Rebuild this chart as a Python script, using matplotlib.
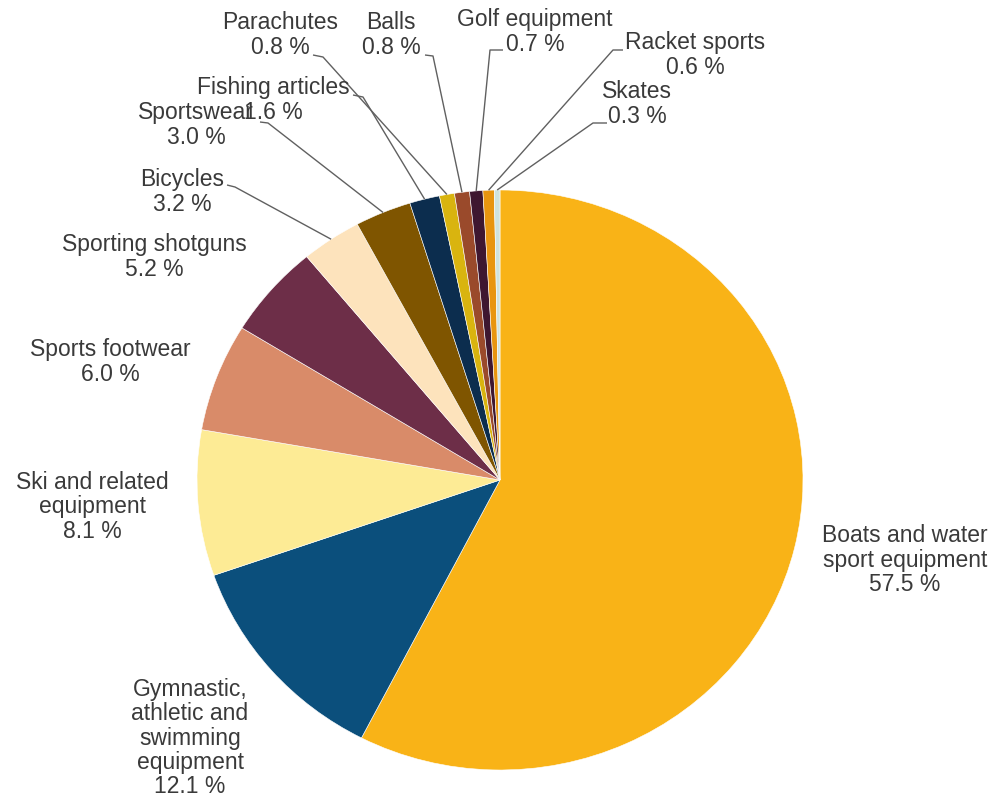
import matplotlib
matplotlib.use("Agg")
import matplotlib.pyplot as plt
import numpy as np

categories = ["Boats and water\nsport equipment",
              "Gymnastic,\nathletic and\nswimming\nequipment",
              "Ski and related\nequipment",
              "Sports footwear",
              "Sporting shotguns",
              "Bicycles",
              "Sportswear",
              "Fishing articles",
              "Parachutes",
              "Balls",
              "Golf equipment",
              "Racket sports",
              "Skates"]
values = [57.5, 12.1, 8.1, 6.0, 5.2, 3.2, 3.0, 1.6, 0.8, 0.8, 0.7, 0.6, 0.3]
colors = ["#F9B317", "#0B4F7C", "#FDEB95", "#D98B69", "#6D2E48", "#FDE3BC",
          "#7F5500", "#0C2D4E", "#D9B40F", "#9A4A2B", "#3E1730", "#E8950F",
          "#CFE3DE"]

# label block centres in pixel coordinates (layout)
label_pos = [(905, 560), (190, 738), (92, 507), (110, 362), (154, 257),
             (182, 192), (196, 125), (273, 100), (280, 35), (391, 35),
             (535, 32), (695, 55), (637, 104)]
# leader line start points (pixels), None = no leader
leader = [None, None, None, None, None,
          [(227, 185), (235, 187)],
          [(260, 122), (268, 123)],
          [(353, 95), (363, 97)],
          [(313, 55), (323, 57)],
          [(425, 55), (433, 56)],
          [(503, 50), (490, 50)],
          [(623, 50), (613, 50)],
          [(607, 123), (593, 123)]]

W, H = 992, 799
CX, CY, RX, RY = 500, 480, 303, 290

fig = plt.figure(figsize=(W / 100, H / 100), dpi=100)
ax = fig.add_axes([0, 0, 1, 1])
wedges, _ = ax.pie(values, colors=colors, startangle=90, counterclock=False,
                   wedgeprops=dict(edgecolor="white", linewidth=0.4))
ax.set_aspect("auto")
ax.set_xlim(-CX / RX, (W - CX) / RX)
ax.set_ylim(-(H - CY) / RY, CY / RY)
ax.axis("off")


def px2data(px, py):
    return (px - CX) / RX, (CY - py) / RY


font = dict(family=["Liberation Sans", "DejaVu Sans"], fontsize=16.5,
            color="#3A3A3A")

for cat, val, pos, w, ld in zip(categories, values, label_pos, wedges, leader):
    x, y = px2data(*pos)
    ax.text(x, y, f"{cat}\n{val:.1f} %", ha="center", va="center",
            linespacing=1.08, **font)
    if ld is not None:
        mid = np.deg2rad((w.theta1 + w.theta2) / 2)
        ex, ey = np.cos(mid), np.sin(mid)
        p0 = px2data(*ld[0])
        p1 = px2data(*ld[1])
        ax.plot([p0[0], p1[0], ex], [p0[1], p1[1], ey], color="#606060",
                lw=1.0, solid_capstyle="butt")

fig.savefig("out.png", dpi=100)
